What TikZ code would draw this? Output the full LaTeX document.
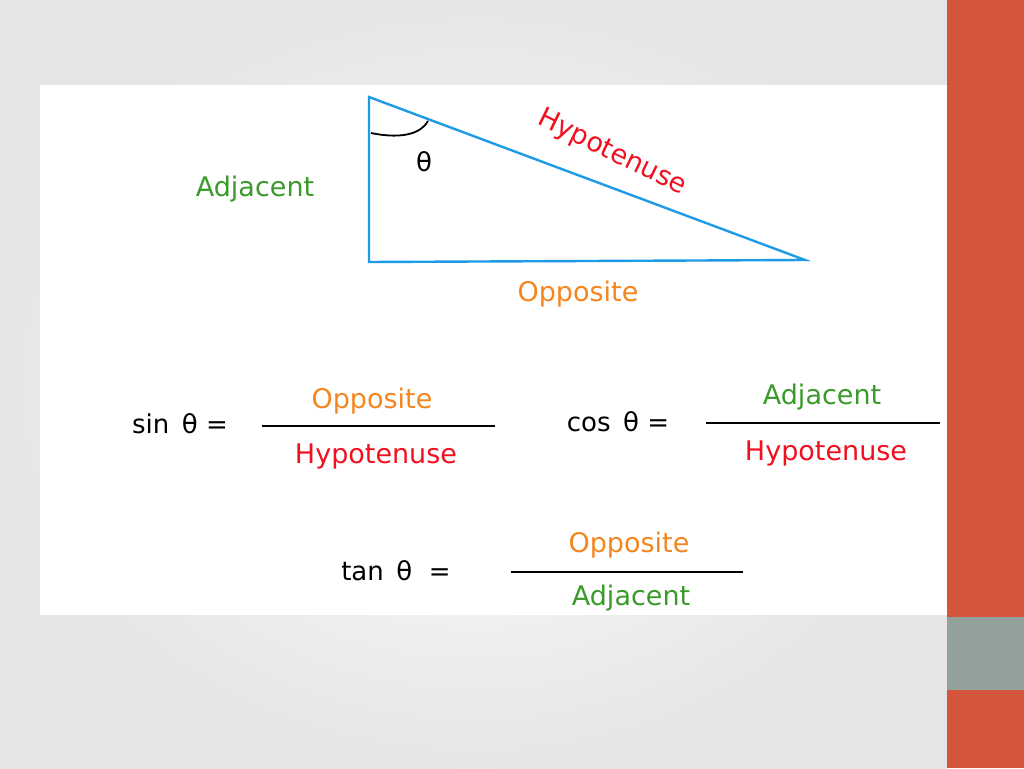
\documentclass[tikz,border=0pt]{standalone}
\usepackage{fontspec}
\setmainfont{DejaVu Sans}
\begin{document}
\begin{tikzpicture}[x=1pt,y=-1pt,
  lbl/.style={font=\fontsize{27}{30}\selectfont,inner sep=0pt},
  eq/.style={font=\fontsize{26}{30}\selectfont,text=black,inner sep=0pt}]
\definecolor{grn}{HTML}{3A9A2A}
\definecolor{org}{HTML}{F5861F}
\definecolor{hred}{HTML}{F01020}
\definecolor{tblue}{HTML}{1E9BE6}
\definecolor{barred}{HTML}{D3553D}
\definecolor{bargray}{HTML}{92A29A}
\useasboundingbox (0,0) rectangle (1024,768);
\shade[inner color=white,outer color=black!10] (0,0) rectangle (947,768);
\fill[white] (40,85) rectangle (952,615);
\fill[barred] (947,0) rectangle (1024,768);
\fill[bargray] (947,617) rectangle (1024,690);
\coordinate (A) at (369,97);
\coordinate (B) at (369,262);
\coordinate (C) at (805,260);
\draw[tblue,line width=2.4pt,line join=miter] (A) -- (B) -- (C) -- cycle;
\draw[black,line width=1.8pt] (371,133) .. controls (405,140) and (422,132) .. (428,121);
\node[eq] (th) at (424,162) {θ};
\node[lbl,text=grn] (adj) at (255,189) {Adjacent};
\node[lbl,text=org] (opp) at (578,294) {Opposite};
\node[lbl,text=hred,rotate=-26] (hyp) at (612,153) {Hypotenuse};
% sin
\node[eq] (s) at (180,424) {sin\, θ =};
\draw[black,line width=1.5pt] (262,426) -- (495,426);
\node[lbl,text=org] (s1) at (372,401) {Opposite};
\node[lbl,text=hred] (s2) at (376,456) {Hypotenuse};
% cos
\node[eq] (c) at (618,422) {cos\, θ =};
\draw[black,line width=1.5pt] (706,423) -- (940,423);
\node[lbl,text=grn] (c1) at (822,397) {Adjacent};
\node[lbl,text=hred] (c2) at (826,453) {Hypotenuse};
% tan
\node[eq] (t) at (396,571) {tan\, θ\ \ =};
\draw[black,line width=1.5pt] (511,572) -- (743,572);
\node[lbl,text=org] (t1) at (629,545) {Opposite};
\node[lbl,text=grn] (t2) at (631,598) {Adjacent};
\end{tikzpicture}
\end{document}
